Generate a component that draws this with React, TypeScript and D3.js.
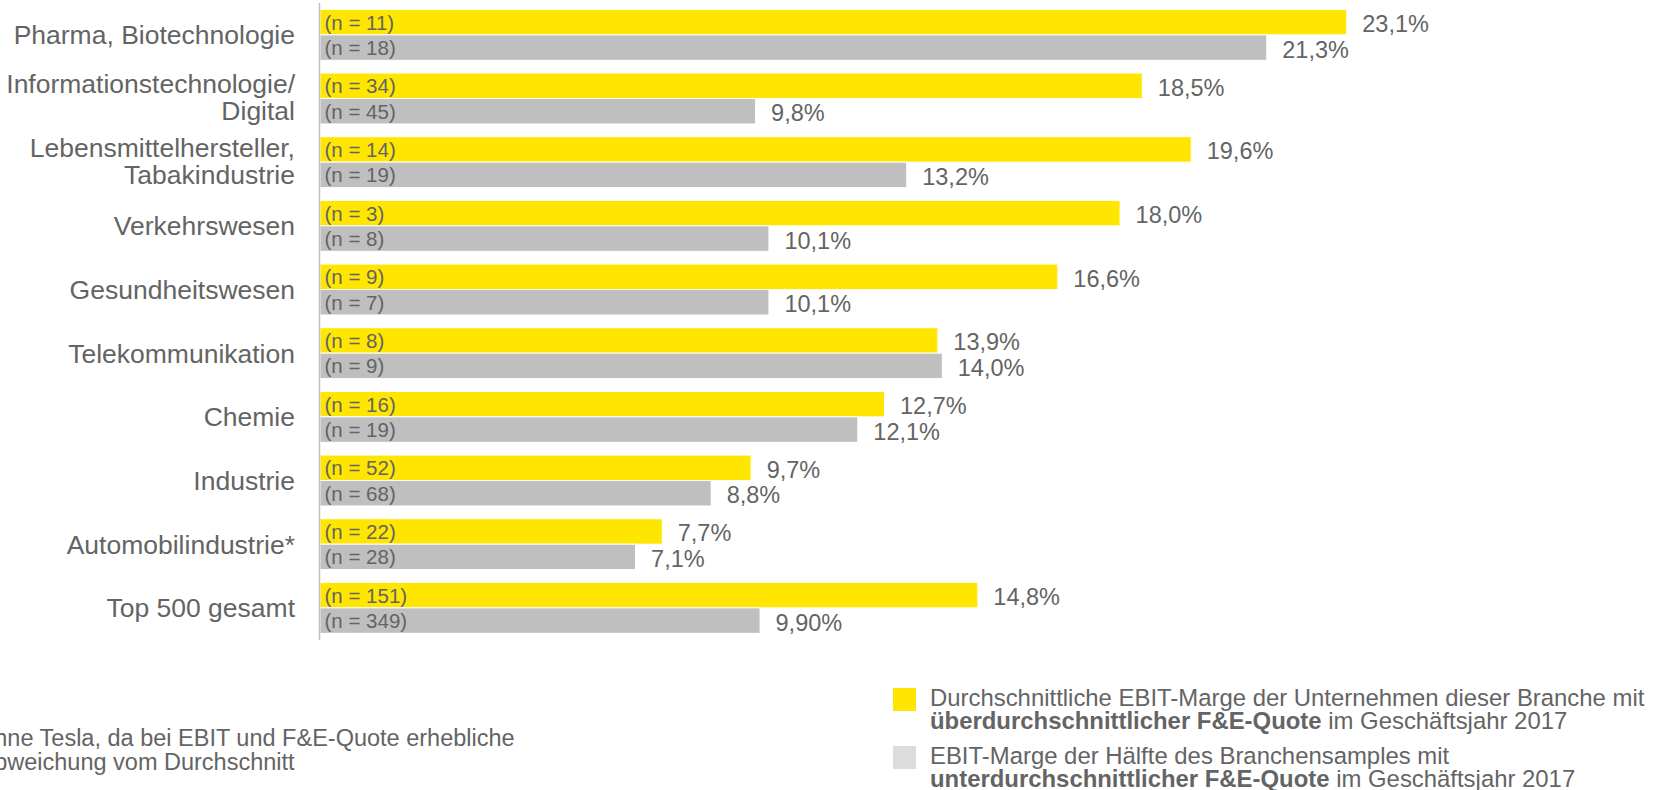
import { useEffect, useRef } from 'react';
import * as d3 from 'd3';

// Branchen (label lines)
const categories: string[][] = [
    ['Pharma, Biotechnologie'],
    ['Informationstechnologie/', 'Digital'],
    ['Lebensmittelhersteller,', 'Tabakindustrie'],
    ['Verkehrswesen'],
    ['Gesundheitswesen'],
    ['Telekommunikation'],
    ['Chemie'],
    ['Industrie'],
    ['Automobilindustrie*'],
    ['Top 500 gesamt'],
];

// EBIT-Marge, überdurchschnittliche F&E-Quote
const aboveValues = [23.1, 18.5, 19.6, 18.0, 16.6, 13.9, 12.7, 9.7, 7.7, 14.8];
const aboveLabels = ['23,1%', '18,5%', '19,6%', '18,0%', '16,6%', '13,9%', '12,7%', '9,7%', '7,7%', '14,8%'];
const aboveN = [11, 34, 14, 3, 9, 8, 16, 52, 22, 151];

// EBIT-Marge, unterdurchschnittliche F&E-Quote
const belowValues = [21.3, 9.8, 13.2, 10.1, 10.1, 14.0, 12.1, 8.8, 7.1, 9.9];
const belowLabels = ['21,3%', '9,8%', '13,2%', '10,1%', '10,1%', '14,0%', '12,1%', '8,8%', '7,1%', '9,90%'];
const belowN = [18, 45, 19, 8, 7, 9, 19, 68, 28, 349];

const legendItems = [
    { color: '#FFE600', line1: 'Durchschnittliche EBIT-Marge der Unternehmen dieser Branche mit', bold: 'überdurchschnittlicher F&E-Quote', rest: ' im Geschäftsjahr 2017' },
    { color: '#DCDCDC', line1: 'EBIT-Marge der Hälfte des Branchensamples mit', bold: 'unterdurchschnittlicher F&E-Quote', rest: ' im Geschäftsjahr 2017' },
];

const footnoteLines = ['* ohne Tesla, da bei EBIT und F&E-Quote erhebliche', 'Abweichung vom Durchschnitt'];

const FONT = '"Liberation Sans", Arial, sans-serif';
const TEXT = '#646464';

const App = () => {
    const svgRef = useRef<SVGSVGElement>(null);

    useEffect(() => {
        if (!svgRef.current) return;
        const svg = d3.select(svgRef.current);
        svg.selectAll('*').remove();

        const width = 1663;
        const height = 790;
        svg.attr('width', width).attr('height', height).style('font-family', FONT);

        const x0 = 320;
        const xScale = d3.scaleLinear().domain([0, 25]).range([x0, x0 + 25 * 44.45]);

        const idx = categories.map((_, i) => String(i));
        const yScale = d3.scaleBand<string>()
            .domain(idx)
            .range([3, 3 + 10 * 63.67])
            .paddingInner(0.2)
            .paddingOuter(0.1);

        const inner = d3.scaleBand<string>()
            .domain(['above', 'below'])
            .range([0, yScale.bandwidth()]);

        const rows = idx.map((k, i) => ({
            k,
            lines: categories[i],
            bars: [
                { key: 'above', value: aboveValues[i], label: aboveLabels[i], n: aboveN[i], color: '#FFE600' },
                { key: 'below', value: belowValues[i], label: belowLabels[i], n: belowN[i], color: '#BFBFBF' },
            ],
        }));

        const g = svg.append('g');

        // Bars
        const groups = g.selectAll('g.row')
            .data(rows)
            .join('g')
            .attr('class', 'row')
            .attr('transform', d => `translate(0,${yScale(d.k)})`);

        groups.selectAll('rect')
            .data(d => d.bars)
            .join('rect')
            .attr('x', x0)
            .attr('y', d => inner(d.key)!)
            .attr('width', d => xScale(d.value) - x0)
            .attr('height', inner.bandwidth())
            .attr('fill', d => d.color)
            .attr('stroke', '#ffffff')
            .attr('stroke-width', 1);

        // n labels inside bars
        groups.selectAll('text.n')
            .data(d => d.bars)
            .join('text')
            .attr('class', 'n')
            .attr('x', x0 + 4.5)
            .attr('y', d => inner(d.key)! + inner.bandwidth() / 2 + 7.5)
            .attr('font-size', 20.5)
            .attr('fill', TEXT)
            .text(d => `(n = ${d.n})`);

        // Value labels
        groups.selectAll('text.v')
            .data(d => d.bars)
            .join('text')
            .attr('class', 'v')
            .attr('x', d => xScale(d.value) + 15.5)
            .attr('y', d => inner(d.key)! + inner.bandwidth() / 2 + 10)
            .attr('font-size', 23.5)
            .attr('fill', TEXT)
            .text(d => d.label);

        // Category labels
        const lineH = 26.7;
        groups.each(function (d) {
            const cy = yScale.bandwidth() / 2;
            const n = d.lines.length;
            d3.select(this).selectAll('text.cat')
                .data(d.lines)
                .join('text')
                .attr('class', 'cat')
                .attr('x', 295)
                .attr('y', (_, j) => cy + 9.5 + (j - (n - 1) / 2) * lineH - (n > 1 ? 1.3 : 0))
                .attr('text-anchor', 'end')
                .attr('font-size', 26.5)
                .attr('fill', TEXT)
                .text(t => t);
        });

        // Axis line
        g.append('line')
            .attr('x1', x0 - 0.5)
            .attr('x2', x0 - 0.5)
            .attr('y1', 3)
            .attr('y2', 640)
            .attr('stroke', '#BFBFBF')
            .attr('stroke-width', 1.5);

        // Footnote (left edge cut off as in the original)
        const foot = g.append('text')
            .attr('font-size', 23.5)
            .attr('fill', TEXT);
        foot.append('tspan').attr('x', -34.5).attr('y', 746).text(footnoteLines[0]);
        foot.append('tspan').attr('x', -21.5).attr('y', 770).text(footnoteLines[1]);

        // Legend
        const legend = g.append('g');
        legendItems.forEach((item, i) => {
            const top = 688 + i * 58;
            legend.append('rect')
                .attr('x', 893)
                .attr('y', top)
                .attr('width', 23)
                .attr('height', 23)
                .attr('fill', item.color);
            const t = legend.append('text')
                .attr('font-size', 23.9)
                .attr('fill', TEXT);
            t.append('tspan').attr('x', 930).attr('y', top + 18).text(item.line1);
            t.append('tspan').attr('x', 930).attr('y', top + 41).attr('font-weight', 'bold').text(item.bold);
            t.append('tspan').text(item.rest);
        });
    }, []);

    return (
        <svg ref={svgRef} style={{ position: 'absolute', left: 0, top: 0, display: 'block' }}></svg>
    );
};

export default App;
